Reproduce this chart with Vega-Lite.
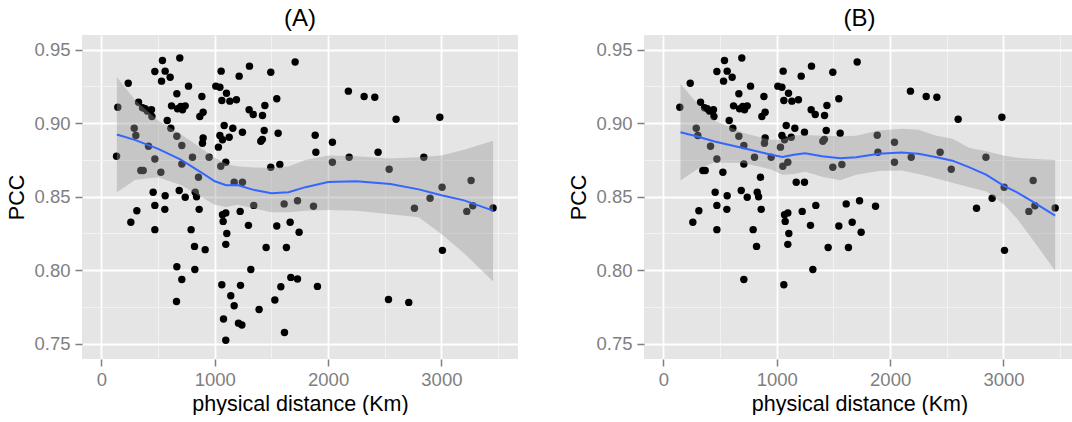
{
  "$schema": "https://vega.github.io/schema/vega-lite/v6.json",
  "padding": {"left": 6, "top": 7, "right": 0, "bottom": 0},
  "background": "white",
  "config": {
    "font": "Liberation Sans",
    "view": {"fill": "#E5E5E5", "stroke": null},
    "axis": {"domain": false, "tickColor": "#7F7F7F", "tickSize": 7, "tickWidth": 1.5, "labelColor": "#7F7F7F", "labelFontSize": 18.5, "labelFont": "Liberation Sans", "titleFont": "Liberation Sans", "titleFontSize": 21.5, "titleFontWeight": "normal", "titleColor": "black", "gridColor": "white", "gridWidth": 1.8},
    "title": {"fontSize": 24, "fontWeight": "normal", "color": "black", "offset": 4, "font": "Liberation Sans"},
    "concat": {"spacing": 50}
  },
  "datasets": {
    "pts": [
      {"x":236,"y":0.9272,"b":1},{"x":144,"y":0.9109,"b":1},{"x":133,"y":0.8775,"b":0},{"x":538,"y":0.9427,"b":1},
      {"x":691,"y":0.9443,"b":1},{"x":471,"y":0.9352,"b":1},{"x":562,"y":0.9354,"b":1},{"x":530,"y":0.9286,"b":1},
      {"x":606,"y":0.9313,"b":1},{"x":768,"y":0.9252,"b":1},{"x":665,"y":0.92,"b":1},{"x":327,"y":0.9143,"b":1},
      {"x":362,"y":0.9105,"b":1},{"x":406,"y":0.9082,"b":1},{"x":441,"y":0.9091,"b":1},{"x":445,"y":0.9046,"b":1},
      {"x":386,"y":0.9098,"b":1},{"x":618,"y":0.9118,"b":1},{"x":671,"y":0.9098,"b":1},{"x":715,"y":0.9091,"b":1},
      {"x":739,"y":0.9118,"b":1},{"x":700,"y":0.9114,"b":1},{"x":886,"y":0.9182,"b":1},{"x":897,"y":0.9075,"b":1},
      {"x":868,"y":0.9046,"b":1},{"x":580,"y":0.9018,"b":1},{"x":612,"y":0.8966,"b":1},{"x":289,"y":0.8966,"b":1},
      {"x":303,"y":0.8916,"b":1},{"x":415,"y":0.8843,"b":1},{"x":471,"y":0.8757,"b":1},{"x":347,"y":0.8678,"b":1},
      {"x":368,"y":0.8678,"b":1},{"x":524,"y":0.8666,"b":1},{"x":665,"y":0.8911,"b":1},{"x":709,"y":0.8848,"b":1},
      {"x":803,"y":0.8768,"b":1},{"x":709,"y":0.8723,"b":1},{"x":856,"y":0.8632,"b":1},{"x":897,"y":0.89,"b":1},
      {"x":891,"y":0.8864,"b":1},{"x":950,"y":0.8768,"b":1},{"x":456,"y":0.853,"b":1},{"x":562,"y":0.8507,"b":1},
      {"x":686,"y":0.8542,"b":1},{"x":739,"y":0.8496,"b":1},{"x":827,"y":0.853,"b":1},{"x":839,"y":0.85,"b":1},
      {"x":1056,"y":0.9354,"b":1},{"x":1215,"y":0.932,"b":1},{"x":1306,"y":0.9388,"b":1},{"x":1494,"y":0.9347,"b":1},
      {"x":1709,"y":0.9416,"b":1},{"x":1009,"y":0.9252,"b":1},{"x":1045,"y":0.9245,"b":1},{"x":1103,"y":0.9204,"b":1},
      {"x":1062,"y":0.9155,"b":1},{"x":1133,"y":0.915,"b":1},{"x":1191,"y":0.916,"b":1},{"x":1303,"y":0.9091,"b":1},
      {"x":1339,"y":0.9059,"b":1},{"x":1421,"y":0.9052,"b":1},{"x":1442,"y":0.912,"b":1},{"x":1547,"y":0.9166,"b":1},
      {"x":1083,"y":0.8984,"b":1},{"x":1159,"y":0.8966,"b":1},{"x":1045,"y":0.8916,"b":1},{"x":1127,"y":0.8905,"b":1},
      {"x":1068,"y":0.8887,"b":1},{"x":1032,"y":0.8837,"b":1},{"x":1244,"y":0.8939,"b":1},{"x":1436,"y":0.895,"b":1},
      {"x":1559,"y":0.8932,"b":1},{"x":1406,"y":0.8877,"b":1},{"x":1420,"y":0.889,"b":1},{"x":1097,"y":0.8734,"b":1},
      {"x":1053,"y":0.8707,"b":1},{"x":1494,"y":0.87,"b":1},{"x":1574,"y":0.8719,"b":1},{"x":1171,"y":0.8598,"b":1},
      {"x":1244,"y":0.8598,"b":1},
      {"x":312,"y":0.8405,"b":1},{"x":259,"y":0.8326,"b":1},{"x":471,"y":0.8441,"b":1},{"x":559,"y":0.8414,"b":1},
      {"x":471,"y":0.8276,"b":1},{"x":862,"y":0.8414,"b":1},{"x":791,"y":0.8276,"b":1},{"x":821,"y":0.8162,"b":1},
      {"x":915,"y":0.814,"b":0},{"x":665,"y":0.8024,"b":0},{"x":824,"y":0.8005,"b":0},{"x":709,"y":0.7937,"b":1},
      {"x":662,"y":0.7787,"b":0},{"x":1068,"y":0.8378,"b":1},{"x":1097,"y":0.839,"b":1},{"x":1074,"y":0.8332,"b":1},
      {"x":1224,"y":0.84,"b":1},{"x":1297,"y":0.8305,"b":1},{"x":1106,"y":0.825,"b":1},{"x":1097,"y":0.8176,"b":1},
      {"x":1344,"y":0.8441,"b":1},{"x":1612,"y":0.8451,"b":1},{"x":1730,"y":0.8473,"b":1},{"x":1547,"y":0.8301,"b":1},
      {"x":1665,"y":0.8326,"b":1},{"x":1744,"y":0.8258,"b":1},{"x":1453,"y":0.8155,"b":1},{"x":1632,"y":0.8155,"b":1},
      {"x":1318,"y":0.8005,"b":1},{"x":1062,"y":0.7901,"b":1},{"x":1227,"y":0.7897,"b":0},{"x":1141,"y":0.7826,"b":0},
      {"x":1171,"y":0.7758,"b":0},{"x":1077,"y":0.7668,"b":0},{"x":1209,"y":0.764,"b":0},{"x":1239,"y":0.7627,"b":0},
      {"x":1097,"y":0.7524,"b":0},{"x":1391,"y":0.7733,"b":0},{"x":1530,"y":0.7797,"b":0},{"x":1583,"y":0.7888,"b":0},
      {"x":1671,"y":0.7951,"b":0},{"x":1730,"y":0.794,"b":0},{"x":1615,"y":0.7576,"b":0},
      {"x":2179,"y":0.9218,"b":1},{"x":2318,"y":0.9182,"b":1},{"x":2412,"y":0.9177,"b":1},{"x":2600,"y":0.9027,"b":1},
      {"x":2986,"y":0.9041,"b":1},{"x":1886,"y":0.8918,"b":1},{"x":1892,"y":0.8802,"b":1},{"x":2038,"y":0.887,"b":1},
      {"x":2038,"y":0.8734,"b":1},{"x":2186,"y":0.8768,"b":1},{"x":2441,"y":0.8802,"b":1},{"x":2539,"y":0.8687,"b":1},
      {"x":2845,"y":0.8768,"b":1},{"x":3006,"y":0.8564,"b":1},{"x":3262,"y":0.861,"b":1},{"x":2900,"y":0.8489,"b":1},
      {"x":1871,"y":0.8435,"b":1},{"x":1906,"y":0.789,"b":0},{"x":2762,"y":0.8421,"b":1},{"x":3224,"y":0.84,"b":1},
      {"x":3277,"y":0.8439,"b":1},{"x":3456,"y":0.8424,"b":1},{"x":3009,"y":0.8135,"b":1},{"x":2533,"y":0.7801,"b":0},
      {"x":2712,"y":0.7781,"b":0}
    ],
    "fitA": [
      {"x":136,"y":0.8923,"lo":0.853,"hi":0.9313},
      {"x":300,"y":0.8885,"lo":0.8615,"hi":0.9155},
      {"x":500,"y":0.8825,"lo":0.8632,"hi":0.9018},
      {"x":700,"y":0.8752,"lo":0.858,"hi":0.8925},
      {"x":900,"y":0.8655,"lo":0.849,"hi":0.882},
      {"x":1000,"y":0.8605,"lo":0.8445,"hi":0.8765},
      {"x":1100,"y":0.8578,"lo":0.843,"hi":0.8725},
      {"x":1200,"y":0.858,"lo":0.8445,"hi":0.8705},
      {"x":1350,"y":0.8545,"lo":0.842,"hi":0.8698},
      {"x":1500,"y":0.8523,"lo":0.8395,"hi":0.8695},
      {"x":1650,"y":0.853,"lo":0.8394,"hi":0.8705},
      {"x":1800,"y":0.8565,"lo":0.8405,"hi":0.875},
      {"x":2000,"y":0.86,"lo":0.841,"hi":0.878},
      {"x":2250,"y":0.8605,"lo":0.8405,"hi":0.8775},
      {"x":2550,"y":0.8587,"lo":0.838,"hi":0.876},
      {"x":2800,"y":0.855,"lo":0.836,"hi":0.8768},
      {"x":3000,"y":0.851,"lo":0.8247,"hi":0.878},
      {"x":3200,"y":0.8475,"lo":0.8115,"hi":0.882},
      {"x":3456,"y":0.8405,"lo":0.7924,"hi":0.888}
    ],
    "fitB": [
      {"x":150,"y":0.8939,"lo":0.861,"hi":0.9268},
      {"x":300,"y":0.891,"lo":0.8688,"hi":0.9132},
      {"x":450,"y":0.8875,"lo":0.8732,"hi":0.9018},
      {"x":700,"y":0.8832,"lo":0.873,"hi":0.8935},
      {"x":950,"y":0.8785,"lo":0.8685,"hi":0.8885},
      {"x":1050,"y":0.877,"lo":0.865,"hi":0.889},
      {"x":1150,"y":0.8785,"lo":0.8655,"hi":0.8916},
      {"x":1250,"y":0.8796,"lo":0.867,"hi":0.892},
      {"x":1400,"y":0.8775,"lo":0.8635,"hi":0.8915},
      {"x":1560,"y":0.8762,"lo":0.8612,"hi":0.8912},
      {"x":1700,"y":0.8768,"lo":0.865,"hi":0.8915},
      {"x":1900,"y":0.8792,"lo":0.8675,"hi":0.895},
      {"x":2100,"y":0.88,"lo":0.8678,"hi":0.8962},
      {"x":2250,"y":0.8792,"lo":0.8655,"hi":0.8955},
      {"x":2400,"y":0.877,"lo":0.8625,"hi":0.8916},
      {"x":2550,"y":0.8745,"lo":0.8595,"hi":0.8895},
      {"x":2700,"y":0.87,"lo":0.8565,"hi":0.8832},
      {"x":2850,"y":0.8648,"lo":0.8535,"hi":0.881},
      {"x":3000,"y":0.8575,"lo":0.845,"hi":0.878},
      {"x":3120,"y":0.853,"lo":0.835,"hi":0.8765},
      {"x":3250,"y":0.847,"lo":0.8215,"hi":0.8758},
      {"x":3456,"y":0.8371,"lo":0.7997,"hi":0.875}
    ]
  },
  "hconcat": [
    {
      "width": 436, "height": 324,
      "title": {"text": "(A)"},
      "layer": [
        {
          "data": {"name": "pts"},
          "mark": {"type": "circle", "size": 55, "color": "black", "opacity": 1},
          "encoding": {
            "x": {"field": "x", "type": "quantitative", "scale": {"domain": [-172, 3676], "nice": false, "zero": false},
                  "axis": {"values": [0, 1000, 2000, 3000], "format": "d", "title": "physical distance (Km)", "labelPadding": 4, "titlePadding": 5}},
            "y": {"field": "y", "type": "quantitative", "scale": {"domain": [0.7396, 0.96], "nice": false, "zero": false},
                  "axis": {"values": [0.75, 0.8, 0.85, 0.9, 0.95], "format": ".2f", "title": "PCC", "labelPadding": 5, "titlePadding": 5}}
          }
        },
        {
          "data": {"name": "fitA"},
          "mark": {"type": "area", "color": "#999999", "opacity": 0.4},
          "encoding": {
            "x": {"field": "x", "type": "quantitative", "axis": {"orient": "bottom", "values": [500, 1500, 2500, 3500], "grid": true, "gridColor": "#F2F2F2", "gridWidth": 1, "labels": false, "ticks": false, "domain": false, "title": null}},
            "y": {"field": "lo", "type": "quantitative", "axis": {"orient": "left", "values": [0.775, 0.825, 0.875, 0.925], "grid": true, "gridColor": "#F2F2F2", "gridWidth": 1, "labels": false, "ticks": false, "domain": false, "title": null}},
            "y2": {"field": "hi"}
          }
        },
        {
          "data": {"name": "fitA"},
          "mark": {"type": "line", "color": "#3366FF", "strokeWidth": 2},
          "encoding": {
            "x": {"field": "x", "type": "quantitative", "axis": null},
            "y": {"field": "y", "type": "quantitative", "axis": null}
          }
        }
      ],
      "resolve": {"axis": {"x": "independent", "y": "independent"}}
    },
    {
      "width": 431, "height": 324,
      "title": {"text": "(B)"},
      "layer": [
        {
          "data": {"name": "pts"},
          "transform": [{"filter": "datum.b == 1"}],
          "mark": {"type": "circle", "size": 55, "color": "black", "opacity": 1},
          "encoding": {
            "x": {"field": "x", "type": "quantitative", "scale": {"domain": [-172, 3631], "nice": false, "zero": false},
                  "axis": {"values": [0, 1000, 2000, 3000], "format": "d", "title": "physical distance (Km)", "labelPadding": 4, "titlePadding": 5}},
            "y": {"field": "y", "type": "quantitative", "scale": {"domain": [0.7396, 0.96], "nice": false, "zero": false},
                  "axis": {"values": [0.75, 0.8, 0.85, 0.9, 0.95], "format": ".2f", "title": "PCC", "labelPadding": 5, "titlePadding": 5}}
          }
        },
        {
          "data": {"name": "fitB"},
          "mark": {"type": "area", "color": "#999999", "opacity": 0.4},
          "encoding": {
            "x": {"field": "x", "type": "quantitative", "axis": {"orient": "bottom", "values": [500, 1500, 2500, 3500], "grid": true, "gridColor": "#F2F2F2", "gridWidth": 1, "labels": false, "ticks": false, "domain": false, "title": null}},
            "y": {"field": "lo", "type": "quantitative", "axis": {"orient": "left", "values": [0.775, 0.825, 0.875, 0.925], "grid": true, "gridColor": "#F2F2F2", "gridWidth": 1, "labels": false, "ticks": false, "domain": false, "title": null}},
            "y2": {"field": "hi"}
          }
        },
        {
          "data": {"name": "fitB"},
          "mark": {"type": "line", "color": "#3366FF", "strokeWidth": 2},
          "encoding": {
            "x": {"field": "x", "type": "quantitative", "axis": null},
            "y": {"field": "y", "type": "quantitative", "axis": null}
          }
        }
      ],
      "resolve": {"axis": {"x": "independent", "y": "independent"}}
    }
  ]
}
